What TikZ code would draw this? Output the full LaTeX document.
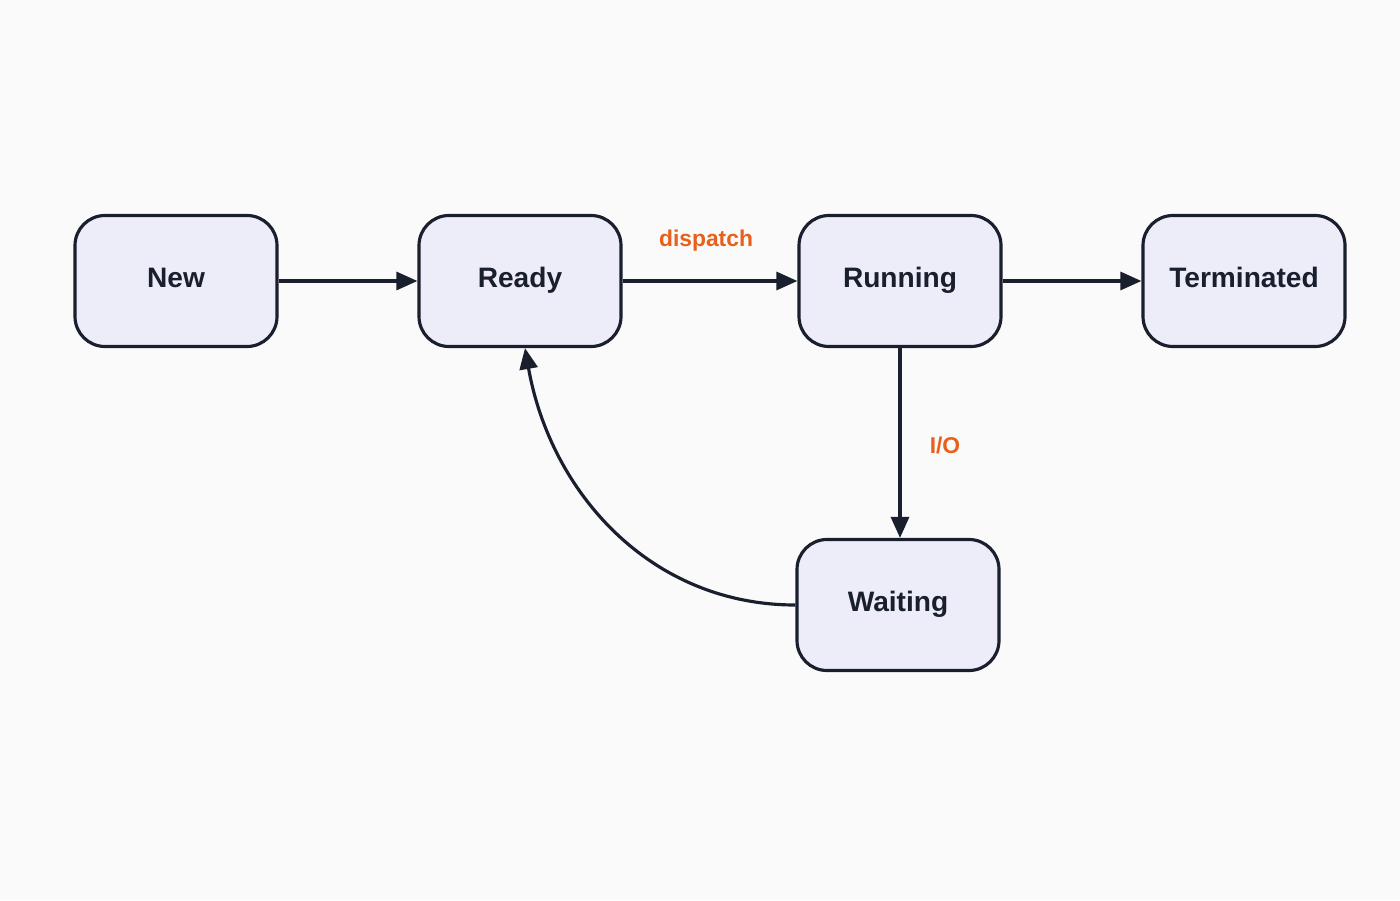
\documentclass[tikz,border=0pt]{standalone}
\usepackage{fontspec}
\setmainfont{Liberation Sans}
\usepackage{xcolor}
\usetikzlibrary{positioning,arrows.meta}
\definecolor{boxfill}{HTML}{EDEDFA}
\definecolor{boxline}{HTML}{1A1F2E}
\definecolor{labelorange}{HTML}{E8601C}

\tikzset{
  state/.style={rectangle,draw=boxline,fill=boxfill,line width=1.8pt,rounded corners=0.6cm,
    minimum width=4.04cm,minimum height=2.62cm,text height=1.6ex,text depth=0.1ex,
    font=\fontsize{16}{19}\selectfont\bfseries,text=boxline},
  trans/.style={-{Triangle[length=0.42cm,width=0.36cm]},draw=boxline,line width=1.8pt},
  lbl/.style={text=labelorange,font=\fontsize{13}{16}\selectfont\bfseries}
}

\begin{document}
\begin{tikzpicture}
    \fill[white!98!black] (0,0) rectangle (28,18);
    \useasboundingbox (0,0) rectangle (28,18);

    \node[state] (new) at (3.52, 12.38) {New};
    \node[state] (ready) at (10.4, 12.38) {Ready};
    \node[state] (running) at (18, 12.38) {Running};
    \node[state] (term) at (24.88, 12.38) {Terminated};
    \node[state] (waiting) at (17.96, 5.9) {Waiting};

    \draw[trans] (new) -- (ready);
    \draw[trans] (ready) -- (running);
    \draw[trans] (running) -- (term);
    \draw[trans] (running) -- (waiting.north -| running);
    \draw[trans] (waiting.west) to[out=180,in=-80] ([xshift=0.1cm]ready.south);

    \node[lbl] (dispatchlbl) at (14.12, 13.18) {dispatch};
    \node[lbl] (iolbl) at (18.9, 9.1) {I/O};
\end{tikzpicture}
\end{document}
